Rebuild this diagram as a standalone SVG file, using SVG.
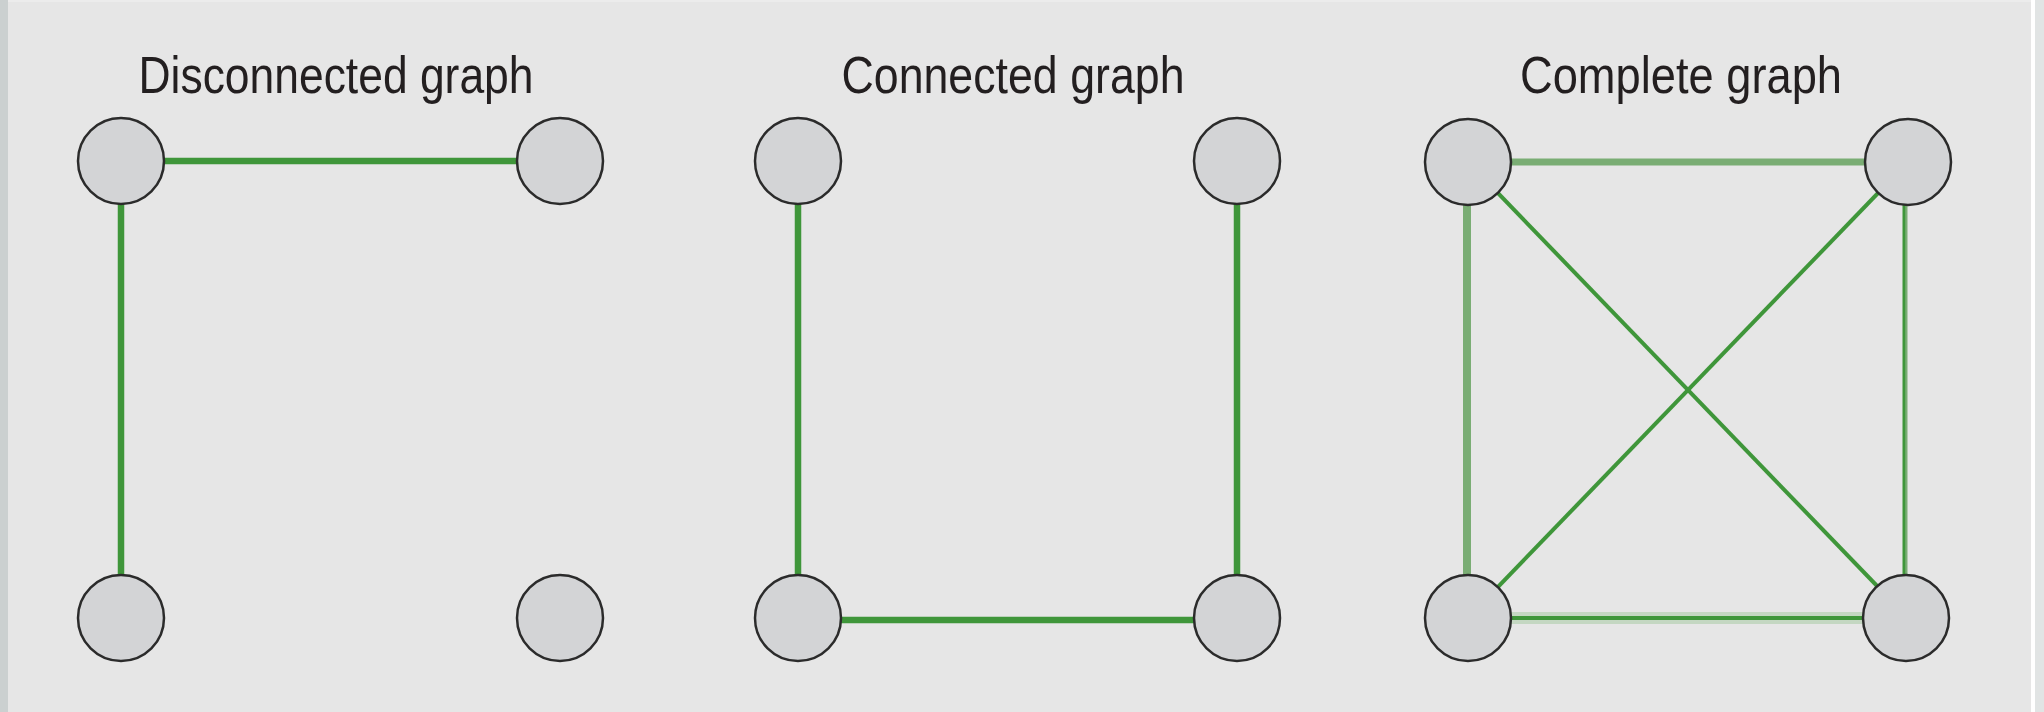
<svg xmlns="http://www.w3.org/2000/svg" width="2044" height="712" viewBox="0 0 2044 712">
  <style>
    .title { font-family: "Liberation Sans", Arial, sans-serif; font-size: 52px; fill: #231f20; text-anchor: middle; }
    .node { fill: #d3d4d6; stroke: #2b2b2b; stroke-width: 2.5; }
    .edge { stroke: #3f963a; stroke-width: 6.5; fill: none; }
    .edge-soft { stroke: #7aad74; stroke-width: 7; fill: none; }
    .edge-thin { stroke: #3f963a; stroke-width: 4; fill: none; }
    .halo { stroke: #c4d7c2; stroke-width: 12; fill: none; }
  </style>

  <!-- panel background and frame strips -->
  <rect x="0" y="0" width="2044" height="712" fill="#e6e6e6"/>
  <rect x="0" y="0" width="2044" height="2" fill="#ececec"/>
  <rect x="0" y="0" width="8" height="712" fill="#cbd0d0"/>
  <rect x="2031" y="0" width="4" height="712" fill="#ffffff"/>
  <rect x="2035" y="0" width="9" height="712" fill="#e1e4e4"/>

  <!-- titles -->
  <text class="title" x="336" y="93" textLength="395" lengthAdjust="spacingAndGlyphs">Disconnected graph</text>
  <text class="title" x="1013" y="93" textLength="343" lengthAdjust="spacingAndGlyphs">Connected graph</text>
  <text class="title" x="1681" y="93" textLength="322" lengthAdjust="spacingAndGlyphs">Complete graph</text>

  <!-- edges -->
  <g id="connectors">
    <!-- disconnected graph -->
    <line class="edge" x1="121" y1="161" x2="560" y2="161"/>
    <line class="edge" x1="121" y1="161" x2="121" y2="618"/>
    <!-- connected graph -->
    <line class="edge" x1="798" y1="161" x2="798" y2="619"/>
    <line class="edge" x1="1237" y1="161" x2="1237" y2="619"/>
    <line class="edge" x1="798" y1="620" x2="1237" y2="620"/>
    <!-- complete graph -->
    <line class="edge-soft" x1="1468" y1="162" x2="1908" y2="162"/>
    <line class="edge-soft" x1="1467" y1="162" x2="1467" y2="618" style="stroke-width:8"/>
    <line class="edge-soft" x1="1905" y1="162" x2="1905" y2="618" style="stroke-width:5"/>
    <line class="edge-thin" x1="1904" y1="162" x2="1904" y2="618" style="stroke-width:2.5"/>
    <line class="halo" x1="1468" y1="618" x2="1908" y2="618"/>
    <line class="edge-thin" x1="1468" y1="618" x2="1908" y2="618"/>
    <line class="edge-thin" x1="1468" y1="162" x2="1908" y2="618"/>
    <line class="edge-thin" x1="1908" y1="162" x2="1468" y2="618"/>
  </g>

  <!-- disconnected graph nodes -->
  <g id="dis-a"><circle class="node" cx="121" cy="161" r="43"/></g>
  <g id="dis-b"><circle class="node" cx="560" cy="161" r="43"/></g>
  <g id="dis-c"><circle class="node" cx="121" cy="618" r="43"/></g>
  <g id="dis-d"><circle class="node" cx="560" cy="618" r="43"/></g>

  <!-- connected graph nodes -->
  <g id="con-a"><circle class="node" cx="798" cy="161" r="43"/></g>
  <g id="con-b"><circle class="node" cx="1237" cy="161" r="43"/></g>
  <g id="con-c"><circle class="node" cx="798" cy="618" r="43"/></g>
  <g id="con-d"><circle class="node" cx="1237" cy="618" r="43"/></g>

  <!-- complete graph nodes -->
  <g id="com-a"><circle class="node" cx="1468" cy="162" r="43"/></g>
  <g id="com-b"><circle class="node" cx="1908" cy="162" r="43"/></g>
  <g id="com-c"><circle class="node" cx="1468" cy="618" r="43"/></g>
  <g id="com-d"><circle class="node" cx="1906" cy="618" r="43"/></g>
</svg>
